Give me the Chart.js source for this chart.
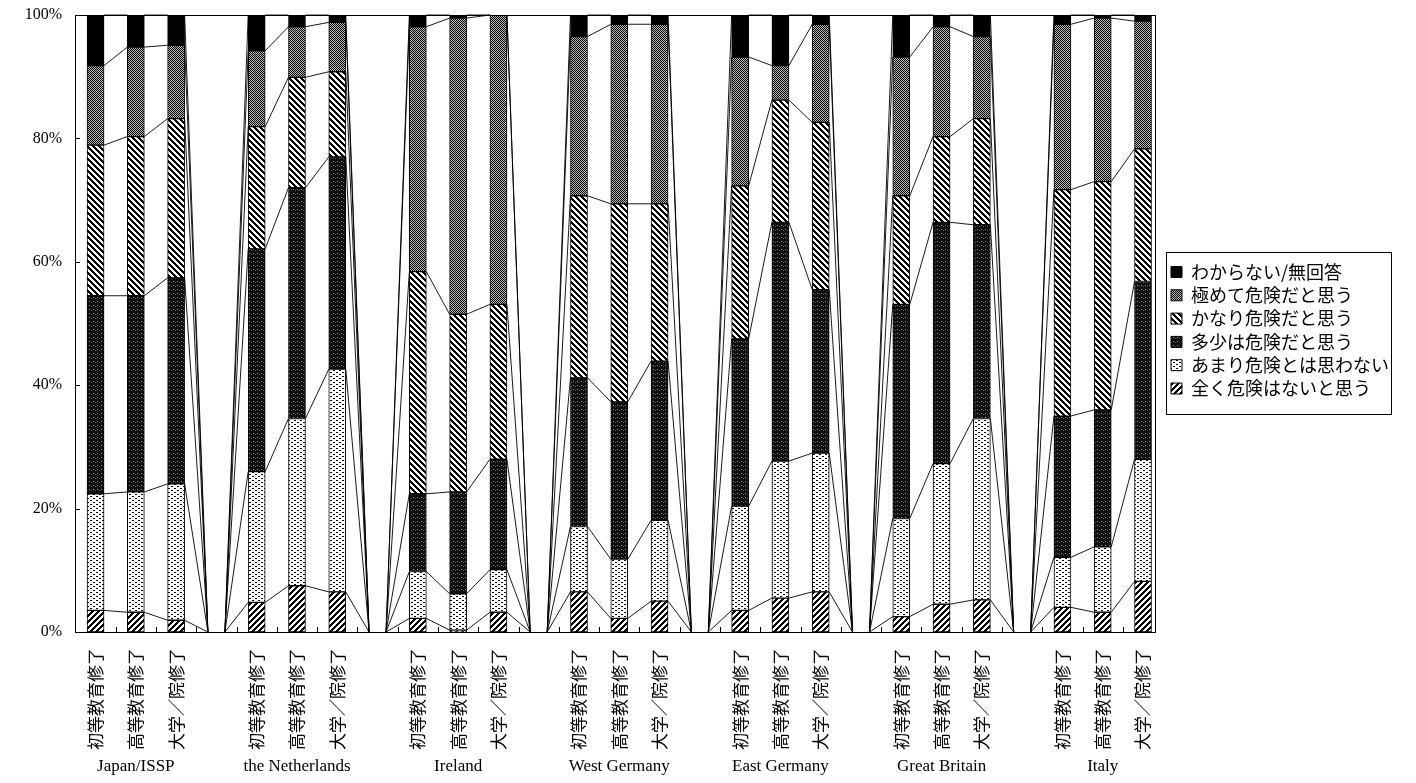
<!DOCTYPE html>
<html><head><meta charset="utf-8">
<script src="https://cdn.jsdelivr.net/npm/chart.js@4/dist/chart.umd.min.js"></script>
<style>html,body{margin:0;padding:0;background:#fff;} #wrap{width:1416px;height:783px;position:relative;}</style>
</head><body><div id="wrap"><canvas id="c"></canvas></div>
<script>
// ---- data ----
const categories = [
  '初等教育修了','高等教育修了','大学／院修了','',
  '初等教育修了','高等教育修了','大学／院修了','',
  '初等教育修了','高等教育修了','大学／院修了','',
  '初等教育修了','高等教育修了','大学／院修了','',
  '初等教育修了','高等教育修了','大学／院修了','',
  '初等教育修了','高等教育修了','大学／院修了','',
  '初等教育修了','高等教育修了','大学／院修了'
];
const groupLabels = [
  '','Japan/ISSP','','',
  '','the Netherlands','','',
  '','Ireland','','',
  '','West Germany','','',
  '','East Germany','','',
  '','Great Britain','','',
  '','Italy',''
];
const yTickValues = [0,20,40,60,80,100];
const seriesNames = ['全く危険はないと思う','あまり危険とは思わない','多少は危険だと思う','かなり危険だと思う','極めて危険だと思う','わからない/無回答'];
const notAtAll     = [3.5,3.2,1.9,0, 4.8,7.5,6.5,0, 2.2,0.3,3.2,0, 6.5,2.2,5.0,0, 3.5,5.5,6.5,0, 2.5,4.5,5.2,0, 4.0,3.2,8.2];
const notVery      = [18.9,19.5,22.1,0, 21.2,27.1,36.1,0, 7.6,5.9,6.9,0, 10.6,9.6,13.1,0, 16.9,22.2,22.5,0, 15.9,22.8,29.4,0, 8.1,10.6,19.8];
const somewhat     = [32.1,31.8,33.4,0, 36.1,37.4,34.4,0, 12.6,16.5,17.9,0, 24.1,25.5,25.8,0, 27.1,38.7,26.5,0, 34.7,39.1,31.4,0, 22.9,22.2,28.8];
const fairly       = [24.4,25.8,25.8,0, 19.8,17.9,13.8,0, 36.0,28.8,25.1,0, 29.5,32.1,25.5,0, 24.8,19.8,27.1,0, 17.6,13.9,17.2,0, 36.7,37.0,21.5];
const extremely    = [12.9,14.5,11.9,0, 12.3,8.2,8.0,0, 39.7,48.0,46.9,0, 25.8,29.1,29.1,0, 20.9,5.6,15.9,0, 22.5,17.8,13.3,0, 26.8,26.5,20.7];
const dontKnow     = [8.2,5.2,4.9,0, 5.8,1.9,1.2,0, 1.9,0.5,0.0,0, 3.5,1.5,1.5,0, 6.8,8.2,1.5,0, 6.8,1.9,3.5,0, 1.5,0.5,1.0];
const seriesValues = [notAtAll, notVery, somewhat, fairly, extremely, dontKnow];

// ---- patterns ----
const mainCtx = document.getElementById('c').getContext('2d');
function makePattern(w, h, shade) {
  const t = document.createElement('canvas'); t.width = w; t.height = h;
  const g = t.getContext('2d'); const img = g.createImageData(w, h);
  for (let y = 0; y < h; y++) for (let x = 0; x < w; x++) {
    const v = shade(x, y); const k = (y * w + x) * 4;
    img.data[k] = v; img.data[k+1] = v; img.data[k+2] = v; img.data[k+3] = 255;
  }
  g.putImageData(img, 0, 0);
  return mainCtx.createPattern(t, 'repeat');
}
const fills = [
  makePattern(6, 6, (x, y) => ((x + y) % 6 < 3 ? 0 : 255)),
  makePattern(6, 4, (x, y) => ((y === 0 && x < 2) || (y === 2 && (x === 3 || x === 4)) ? 0 : 255)),
  makePattern(4, 4, (x, y) => (x === 1 && y === 1 ? 150 : (x === 3 && y === 2 ? 90 : 15))),
  makePattern(6, 6, (x, y) => ((((x - y) % 6) + 6) % 6 < 3 ? 0 : 255)),
  makePattern(2, 2, (x, y) => ((x + y) % 2 === 0 ? 0 : 185)),
  '#000'
];

const datasets = seriesNames.map((name, d) => ({
  label: name,
  data: seriesValues[d].map((v, i) => ({x: i, y: v})),
  backgroundColor: fills[d],
  borderColor: '#000',
  borderWidth: 1,
  borderSkipped: false,
  barThickness: 17
}));

function fixScale(size) {
  return (s) => {
    if (s.isHorizontal()) s.height = size; else s.width = size;
    s.paddingTop = 0; s.paddingBottom = 0; s.paddingLeft = 0; s.paddingRight = 0;
  };
}

const decor = {
  id: 'decor',
  afterLayout(chart) {
    const lg = chart.legend;
    if (lg) { lg.left += 11; lg.right += 11; }
  },
  afterDatasetsDraw(chart) {
    const ctx = chart.ctx;
    ctx.save(); ctx.strokeStyle = '#000'; ctx.lineWidth = 0.9;
    chart.data.datasets.forEach((ds, d) => {
      const els = chart.getDatasetMeta(d).data;
      for (let i = 0; i < els.length - 1; i++) {
        const a = els[i], b = els[i + 1];
        ctx.beginPath();
        ctx.moveTo(a.x + a.width / 2, a.y);
        ctx.lineTo(b.x - b.width / 2, b.y);
        ctx.stroke();
      }
    });
    ctx.restore();
  },
  afterDraw(chart) {
    const ctx = chart.ctx, ca = chart.chartArea;
    ctx.save(); ctx.strokeStyle = '#000'; ctx.lineWidth = 1;
    ctx.strokeRect(Math.round(ca.left) + 0.5, Math.round(ca.top) + 0.5, Math.round(ca.right - ca.left), Math.round(ca.bottom - ca.top));
    const ys = chart.scales.y, xs = chart.scales.x;
    yTickValues.forEach(v => {
      const y = Math.round(ys.getPixelForValue(v)) + 0.5;
      ctx.beginPath(); ctx.moveTo(ca.left, y); ctx.lineTo(ca.left + 5, y); ctx.stroke();
    });
    for (let i = 0; i <= categories.length; i++) {
      const x = Math.round(xs.getPixelForValue(i - 0.5)) + 0.5;
      if (x <= ca.left + 1 || x >= ca.right - 1) continue;
      ctx.beginPath(); ctx.moveTo(x, ca.bottom); ctx.lineTo(x, ca.bottom - 5); ctx.stroke();
    }
    const hb = chart.legend && chart.legend.legendHitBoxes;
    if (hb && hb.length) {
      let l = Infinity, r = -Infinity, t = Infinity, b = -Infinity;
      hb.forEach(h => { l = Math.min(l, h.left); r = Math.max(r, h.left + h.width); t = Math.min(t, h.top); b = Math.max(b, h.top + h.height); });
      ctx.strokeRect(Math.round(l - 5) + 0.5, Math.round(t - 11) + 0.5, Math.round(r - l + 7), Math.round(b - t + 27));
    }
    ctx.restore();
  }
};

new Chart(document.getElementById('c'), {
  type: 'bar',
  data: { datasets },
  plugins: [decor],
  options: {
    responsive: true,
    maintainAspectRatio: false,
    animation: false,
    layout: { autoPadding: false, padding: { left: 4, top: 15, right: 28, bottom: 7 } },
    plugins: {
      tooltip: { enabled: false },
      legend: {
        position: 'right',
        fullSize: false,
        reverse: true,
        align: 'center',
        title: { display: true, text: '', font: { size: 11.25 }, padding: 0 },
        labels: {
          boxWidth: 11, boxHeight: 11, padding: 5.3, color: '#000',
          font: { family: "'Noto Sans CJK JP'", size: 18 }
        }
      }
    },
    scales: {
      x: {
        type: 'linear', stacked: true, offset: false, min: -0.51, max: 26.29,
        grid: { display: false, drawTicks: false },
        border: { display: true, color: '#000' },
        afterBuildTicks: (s) => { s.ticks = categories.map((c, i) => ({ value: i })); },
        afterFit: fixScale(118),
        ticks: {
          autoSkip: false, minRotation: 90, maxRotation: 90, padding: 16, color: '#000',
          font: { family: "'Noto Sans CJK JP'", size: 17 },
          callback: (v) => categories[v]
        }
      },
      x2: {
        type: 'linear', position: 'bottom', offset: false, min: -0.51, max: 26.29,
        grid: { display: false, drawTicks: false },
        border: { display: false },
        afterBuildTicks: (s) => { s.ticks = groupLabels.map((c, i) => ({ value: i })); },
        afterFit: fixScale(26),
        ticks: {
          autoSkip: false, minRotation: 0, maxRotation: 0, padding: 6, color: '#000',
          font: { family: "'Liberation Serif'", size: 17 },
          callback: (v) => groupLabels[v]
        }
      },
      y: {
        stacked: true, min: 0, max: 100,
        grid: { display: false, drawTicks: false },
        border: { display: true, color: '#000' },
        afterBuildTicks: (s) => { s.ticks = yTickValues.map(v => ({ value: v })); },
        afterFit: fixScale(71),
        ticks: {
          padding: 13, color: '#000',
          font: { family: "'Liberation Serif'", size: 16 },
          callback: (v) => v + '%'
        }
      }
    }
  }
});
</script></body></html>
